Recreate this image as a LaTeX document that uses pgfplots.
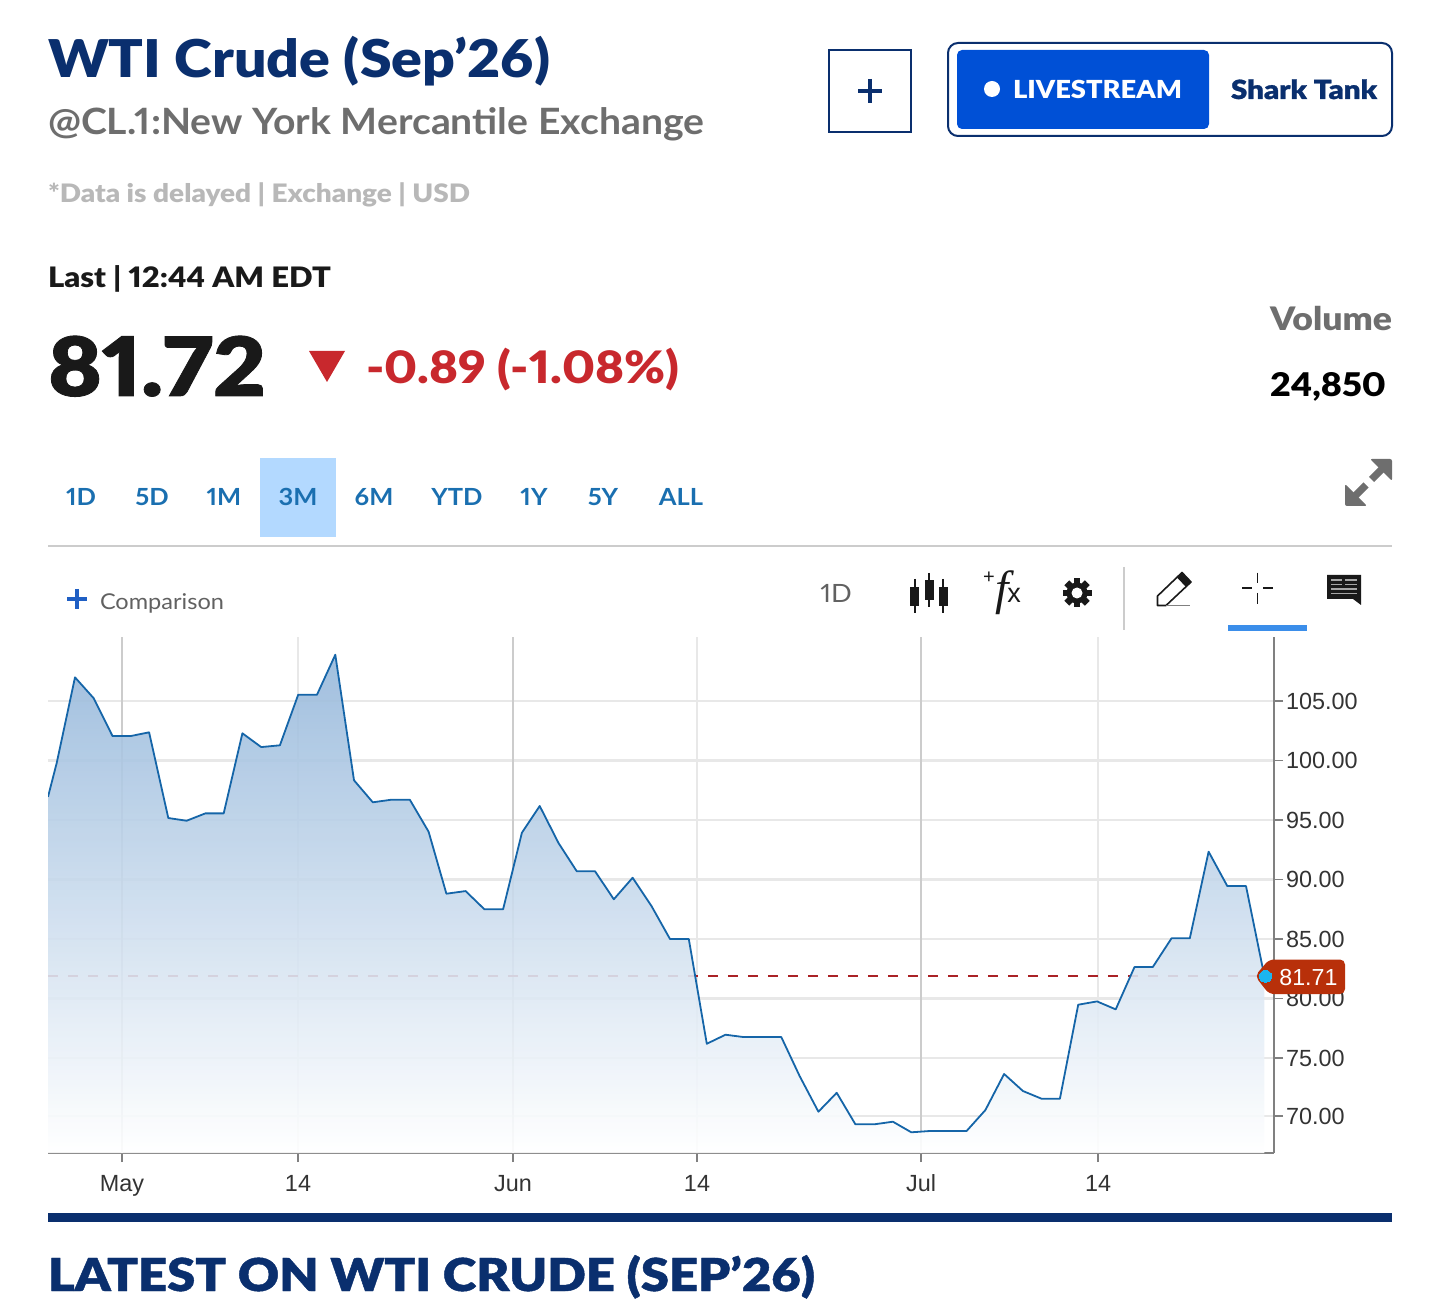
\documentclass[border=0pt]{standalone}
\usepackage{fontspec}
\usepackage{graphicx}
\usepackage{pgfplots}
\usepackage{pgfplotstable}
\pgfplotsset{compat=1.18}
\setmainfont{Liberation Sans}
\newfontfamily\lat{Lato}[FakeStretch=1.08,Numbers=Proportional]
\newfontfamily\blk{Lato Black}[FakeStretch=1.1,Numbers=Proportional]
\newfontfamily\hvy{Lato Black}[FakeStretch=1.12,AutoFakeBold=1,Numbers=Proportional]
\newfontfamily\serif{Liberation Serif}
\definecolor{navy}{HTML}{0A2F6E}
\definecolor{lblue}{HTML}{0050D6}
\definecolor{grayt}{HTML}{6E6E6E}
\definecolor{redt}{HTML}{C8282D}
\definecolor{rangeb}{HTML}{1A6FB0}
\definecolor{linec}{HTML}{1565A8}
\definecolor{tagc}{HTML}{B8300A}
\definecolor{dotc}{HTML}{1CB5F0}
% x = horizontal position along the date axis, y = price
\pgfplotstableread{
x y
48 96.95
56.7 99.79
75 106.99
93.75 105.23
112.5 102.06
130.8 102.06
149.1 102.37
168.3 95.17
186.6 94.94
205.4 95.56
223.7 95.56
242.4 102.29
261.2 101.13
279.9 101.28
298.2 105.53
317 105.53
335.3 108.89
354 98.34
372.8 96.49
391.5 96.71
409.8 96.71
428.6 94.02
446.4 88.81
465.6 89.03
484.4 87.50
503.1 87.50
521.9 93.93
539.7 96.18
558.5 93.07
576.8 90.69
595.1 90.69
613.8 88.34
632.6 90.15
651.3 87.80
670 85.00
688.8 85.00
706.8 76.20
725.5 76.96
743.8 76.76
762.6 76.76
781.3 76.76
799.6 73.49
818.4 70.49
836.7 72.08
855.4 69.43
874.2 69.43
892.9 69.65
911.3 68.76
930 68.87
948.3 68.87
966.6 68.87
985.4 70.63
1004.1 73.66
1022.9 72.23
1041.6 71.58
1059.9 71.58
1078.2 79.48
1097 79.76
1115.7 79.09
1134.5 82.65
1152.8 82.65
1171.5 85.06
1189.8 85.06
1208.6 92.34
1227.3 89.45
1246 89.45
1264.4 81.87
}\pricedata
\newcommand\T[6]{% x y anchor colour width(px) text
 \node[anchor=#3,inner sep=0pt,outer sep=0pt,text=#4] at (#1,#2) {\resizebox{\dimexpr #5pt/2\relax}{!}{#6}};}
\begin{document}
\begin{tikzpicture}[x=0.5pt,y=-0.5pt]
\path[use as bounding box] (0,0) rectangle (1456,1315);
% ---------- header
\T{48}{78}{base west}{navy}{502}{\fontsize{25}{25}\selectfont\blk WTI Crude (Sep’26)}
\T{48}{135}{base west}{grayt}{656}{\fontsize{19}{19}\selectfont\lat\bfseries @CL.1:New York Mercantile Exchange}
\T{48}{203}{base west}{black!28}{422}{\fontsize{14}{14}\selectfont\blk *Data is delayed | Exchange | USD}
\T{48}{288}{base west}{black!90}{283}{\fontsize{15}{15}\selectfont\blk Last | 12:44 AM EDT}
\T{48}{396}{base west}{black!90}{218}{\fontsize{44}{44}\selectfont\hvy\bfseries 81.72}
\fill[redt] (309,351)--(345,351)--(327,382)--cycle;
\T{366}{384}{base west}{redt}{313}{\fontsize{24}{24}\selectfont\blk -0.89 (-1.08\%)}
\T{1392}{331}{base east}{grayt}{122}{\fontsize{18}{18}\selectfont\blk Volume}
\T{1386}{397}{base east}{black}{116}{\fontsize{18}{18}\selectfont\blk 24,850}
% buttons
\draw[navy,line width=1pt] (829,50) rectangle (911,132);
\draw[navy,line width=2pt] (858,91)--(882,91) (870,79)--(870,103);
\draw[navy,line width=1pt,rounded corners=5pt] (948,43) rectangle (1392,136);
\fill[lblue,rounded corners=2.5pt] (957,50) rectangle (1209,129);
\fill[white] (992,89) circle[radius=8];
\T{1013}{99}{base west}{white}{169}{\fontsize{14}{14}\selectfont\blk LIVESTREAM}
\T{1231}{99}{base west}{navy}{146}{\fontsize{14}{14}\selectfont\hvy\bfseries Shark Tank}
% range selector
\fill[color={rgb,255:red,179;green,217;blue,255}] (260,458) rectangle (336,537);
\foreach \cx/\lab in {81/1D,152/5D,224/1M,298/3M,374/6M,457/YTD,534/1Y,603/5Y,681/ALL}{
  \node[anchor=base,inner sep=0pt,text=rangeb] at (\cx,506) {\fontsize{11.8}{11.8}\selectfont\lat\bfseries \lab};}
% expand icon
\fill[grayt,rounded corners=1pt] (1392,459)--(1370,459)--(1392,481)--cycle;
\fill[grayt,rounded corners=1pt] (1345,506)--(1367,506)--(1345,484)--cycle;
\draw[grayt,line width=3.6pt] (1383,468)--(1371.5,479.5) (1366,485)--(1354,497);
\draw[black!20,line width=1pt] (48,546.5)--(1392,546.5);
% toolbar
\draw[color={rgb,255:red,31;green,95;blue,196},line width=1.8pt] (67,599)--(87,599) (77,589)--(77,609);
\T{100}{610}{base west}{black!62}{124}{\fontsize{12}{12}\selectfont\lat Comparison}
\node[anchor=base west,inner sep=0pt,text=black!62] at (820,603) {\fontsize{12.6}{12.6}\selectfont\lat 1D};
\foreach \cx/\a/\b/\c/\d in {914.7/579/587/606/613,929/573/580/600/607,943/579/587/606/613}{
  \draw[black!90,line width=0.8pt] (\cx,\a)--(\cx,\d);
  \fill[black!90] (\cx-4.5,\b) rectangle (\cx+4.5,\c);}
\node[anchor=center,inner sep=0pt,text=black!90] at (989,578) {\fontsize{10}{10}\selectfont +};
\node[anchor=base,inner sep=0pt,text=black!90] at (1002,604) {\fontsize{24}{24}\selectfont\serif\itshape f};
\node[anchor=base,inner sep=0pt,text=black!90] at (1014,603) {\fontsize{13.5}{13.5}\selectfont x};
% gear
\foreach \a in {0,45,...,315}{\fill[black!90,rotate around={\a:(1077,593)}] (1073.6,578.5) rectangle (1080.4,585);}
\fill[black!90] (1077,593) circle[radius=10.5];
\fill[white] (1077,593) circle[radius=5.5];
\draw[black!20,line width=0.8pt] (1124,567)--(1124,630);
% pencil
\draw[black!90,line width=0.8pt,line join=round] (1157.5,605.5)--(1157.5,596)--(1182,572.5)--(1191,582)--(1166,605.5)--cycle;
\fill[black!90] (1182,572.5)--(1191,582)--(1186,587)--(1177,577.5)--cycle;
\draw[black!50,line width=0.8pt] (1166,605.5)--(1190,605.5);
% crosshair
\draw[black!90,line width=0.8pt] (1242,588)--(1252,588) (1263,588)--(1273,588) (1257.5,572.7)--(1257.5,583) (1257.5,593)--(1257.5,604);
\fill[color={rgb,255:red,59;green,142;blue,234}] (1228,625) rectangle (1307,630.5);
% comment
\fill[black!90] (1327,575)--(1361,575)--(1361,605)--(1353,599)--(1327,599)--cycle;
\draw[black!35,line width=0.8pt] (1331,580)--(1342,580) (1331,584.5)--(1342,584.5) (1331,589)--(1357,589) (1331,593.5)--(1357,593.5) (1345,580)--(1357,580) (1345,584.5)--(1357,584.5);
% ---------- chart
\begin{axis}[
  at={(24pt,-576.5pt)},anchor=south west,scale only axis,
  width=613pt,height=258pt,
  xmin=48,xmax=1274,ymin=67.02,ymax=110.38,
  axis x line*=bottom,axis y line*=right,
  axis line style={color=black!50,line width=0.7pt},
  xtick={298,697,1098},xticklabels={14,14,14},
  extra x ticks={122,513,921},extra x tick labels={May,Jun,Jul},
  extra x tick style={grid style={color=black!20,line width=1pt}},
  ytick={70.12,75,80,85,90,95,100,105},
  yticklabels={70.00,75.00,80.00,85.00,90.00,95.00,100.00,105.00},
  grid=major,
  grid style={color=black!9,line width=1.1pt},
  tick style={color=black!50,line width=0.7pt},
  major tick length=4.5pt,
  tick align=outside,
  ticklabel style={font=\fontsize{11.7}{11.7}\selectfont,text=black!80},
  xticklabel style={yshift=-2.6pt,text height=8.4pt,text depth=0pt},
  yticklabel style={anchor=west,xshift=-2pt},
  /pgf/number format/assume math mode=true,
]
% last-price line, under the area fill
\addplot[forget plot,color=redt!85!black,line width=0.9pt,dash pattern=on 5pt off 5pt,dash phase=0pt] coordinates {(48,81.87) (1264.4,81.87)};
\addplot[forget plot,draw=none,top color={rgb,255:red,150;green,184;blue,219},bottom color=white,opacity=0.9] table[x=x,y=y]{\pricedata} \closedcycle;
\addplot[forget plot,color=linec,line width=0.9pt,line join=round] table[x=x,y=y]{\pricedata};
\end{axis}
% price tag
\fill[tagc,rounded corners=2.5pt] (1255,976)--(1269,959.5)--(1345,959.5)--(1345,994)--(1269,994)--cycle;
\node[anchor=base west,inner sep=0pt,text=white] at (1279,985) {\fontsize{11.6}{11.6}\selectfont 81.71};
\begin{axis}[
  at={(24pt,-576.5pt)},anchor=south west,scale only axis,
  width=613pt,height=258pt,
  xmin=48,xmax=1274,ymin=67.02,ymax=110.38,hide axis,clip=false]
\addplot[only marks,mark=*,mark size=3pt,color=dotc,mark options={fill=dotc,draw=dotc,line width=0pt}] coordinates {(1265.5,81.87)};
\end{axis}
% ---------- footer
\fill[navy] (48,1213) rectangle (1392,1222);
\T{48}{1291}{base west}{navy}{767}{\fontsize{24}{24}\selectfont\hvy\bfseries LATEST ON WTI CRUDE (SEP’26)}
\end{tikzpicture}
\end{document}
